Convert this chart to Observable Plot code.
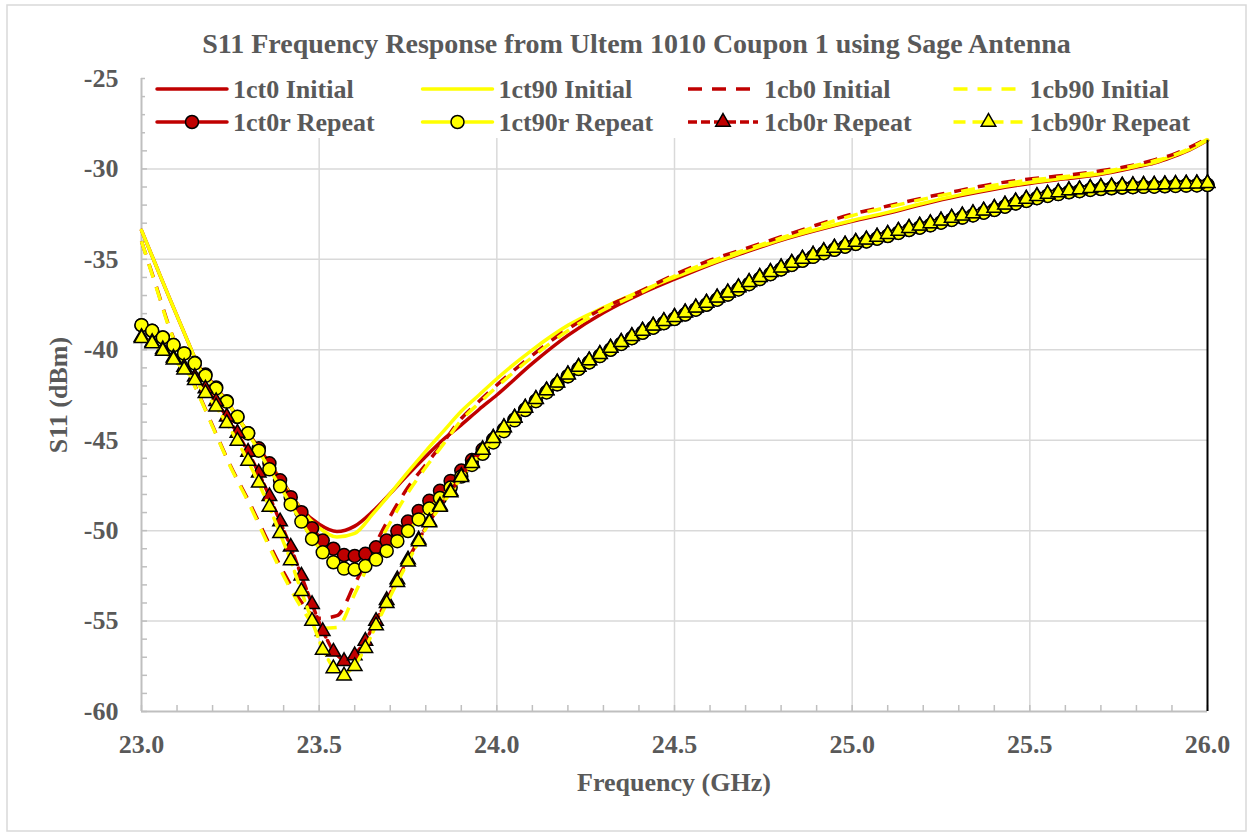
<!DOCTYPE html>
<html>
<head>
<meta charset="utf-8">
<script src="https://cdn.jsdelivr.net/npm/d3@7"></script>
<script src="https://cdn.jsdelivr.net/npm/@observablehq/plot@0.6"></script>
<style>
  body { margin: 0; background: #ffffff; }
  #wrap { position: relative; width: 1253px; height: 837px; overflow: hidden; }
</style>
</head>
<body>
<div id="wrap"></div>
<script>
// ---------- Text ----------
const chartTitle = "S11 Frequency Response from Ultem 1010 Coupon 1 using Sage Antenna";
const xTitle = "Frequency (GHz)";
const yTitle = "S11 (dBm)";
const seriesNames = ["1ct0 Initial", "1ct90 Initial", "1cb0 Initial", "1cb90 Initial",
                     "1ct0r Repeat", "1ct90r Repeat", "1cb0r Repeat", "1cb90r Repeat"];

// ---------- Axis ticks ----------
const xTicks = [23.0, 23.5, 24.0, 24.5, 25.0, 25.5, 26.0];
const yTicks = [-60, -55, -50, -45, -40, -35, -30, -25];
const xGridTicks = [23.5, 24.0, 24.5, 25.0, 25.5];
const yGridTicks = [-55, -50, -45, -40, -35, -30];

// ---------- Initial sweeps (GHz) ----------
const freqInitial = [23.00,23.04,23.08,23.12,23.16,23.20,23.25,23.30,23.35,23.40,
  23.45,23.50,23.55,23.60,23.65,23.70,23.75,23.80,23.85,23.90,23.95,24.00,
  24.10,24.20,24.30,24.40,24.50,24.60,24.70,24.80,24.90,25.00,25.10,25.20,
  25.30,25.40,25.50,25.60,25.70,25.80,25.85,25.90,25.95,26.00];

const ct0Initial = [-33.40,-35.30,-37.20,-39.05,-40.85,-41.90,-43.15,-44.60,-46.00,-47.40,
  -48.80,-49.65,-50.05,-49.75,-48.95,-47.95,-46.90,-45.90,-44.95,-44.15,-43.30,-42.50,
  -40.75,-39.20,-37.95,-36.95,-36.10,-35.30,-34.60,-33.95,-33.40,-32.90,-32.45,-31.95,
  -31.50,-31.12,-30.80,-30.55,-30.30,-29.90,-29.68,-29.35,-28.95,-28.42];

const ct90Initial = [-33.40,-35.30,-37.20,-39.05,-40.85,-41.90,-43.15,-44.60,-46.00,-47.45,
  -48.85,-49.85,-50.35,-50.15,-49.10,-47.95,-46.75,-45.60,-44.50,-43.40,-42.50,-41.60,
  -40.00,-38.65,-37.67,-36.80,-36.00,-35.25,-34.55,-33.90,-33.35,-32.85,-32.40,-31.90,
  -31.45,-31.07,-30.75,-30.50,-30.25,-29.85,-29.65,-29.30,-28.92,-28.40];

const cb0Initial = [-34.00,-36.40,-38.85,-40.70,-42.40,-44.20,-46.40,-48.30,-50.35,-52.30,
  -53.95,-54.85,-54.70,-52.95,-51.05,-49.20,-47.60,-46.35,-45.10,-43.80,-42.85,-41.95,
  -40.30,-38.85,-37.70,-36.80,-35.85,-35.05,-34.40,-33.75,-33.10,-32.50,-32.05,-31.60,
  -31.20,-30.82,-30.55,-30.35,-30.10,-29.75,-29.50,-29.22,-28.80,-28.30];

const cb90Initial = [-34.00,-36.45,-38.90,-40.75,-42.45,-44.25,-46.45,-48.40,-50.50,-52.50,
  -54.25,-55.40,-55.35,-53.50,-51.40,-49.55,-47.90,-46.50,-45.20,-43.90,-42.95,-42.05,
  -40.40,-38.95,-37.80,-36.88,-35.93,-35.12,-34.47,-33.82,-33.18,-32.58,-32.12,-31.67,
  -31.27,-30.90,-30.62,-30.42,-30.17,-29.80,-29.56,-29.28,-28.86,-28.36];

// ---------- Repeat sweeps (GHz) ----------
const freqRepeat = [
  23.00,23.03,23.06,23.09,23.12,23.15,23.18,23.21,23.24,23.27,
  23.30,23.33,23.36,23.39,23.42,23.45,23.48,23.51,23.54,23.57,
  23.60,23.63,23.66,23.69,23.72,23.75,23.78,23.81,23.84,23.87,
  23.90,23.93,23.96,23.99,24.02,24.05,24.08,24.11,24.14,24.17,
  24.20,24.23,24.26,24.29,24.32,24.35,24.38,24.41,24.44,24.47,
  24.50,24.53,24.56,24.59,24.62,24.65,24.68,24.71,24.74,24.77,
  24.80,24.83,24.86,24.89,24.92,24.95,24.98,25.01,25.04,25.07,
  25.10,25.13,25.16,25.19,25.22,25.25,25.28,25.31,25.34,25.37,
  25.40,25.43,25.46,25.49,25.52,25.55,25.58,25.61,25.64,25.67,
  25.70,25.73,25.76,25.79,25.82,25.85,25.88,25.91,25.94,25.97,
  26.00];

const ct0Repeat = [
  -38.64,-38.95,-39.32,-39.74,-40.20,-40.72,-41.37,-42.08,-42.84,-43.72,
  -44.61,-45.45,-46.28,-47.22,-48.15,-48.98,-49.87,-50.55,-51.00,-51.35,
  -51.40,-51.28,-50.92,-50.55,-50.02,-49.50,-48.92,-48.35,-47.80,-47.25,
  -46.68,-46.10,-45.52,-44.95,-44.40,-43.85,-43.30,-42.82,-42.34,-41.90,
  -41.46,-41.05,-40.69,-40.34,-39.99,-39.67,-39.35,-39.05,-38.77,-38.52,
  -38.29,-38.04,-37.77,-37.50,-37.22,-36.94,-36.65,-36.36,-36.08,-35.81,
  -35.55,-35.30,-35.07,-34.85,-34.65,-34.46,-34.29,-34.14,-34.00,-33.85,
  -33.70,-33.53,-33.37,-33.24,-33.11,-32.96,-32.81,-32.68,-32.56,-32.41,
  -32.26,-32.08,-31.90,-31.76,-31.61,-31.48,-31.38,-31.28,-31.22,-31.15,
  -31.10,-31.06,-31.02,-31.00,-30.98,-30.97,-30.95,-30.93,-30.91,-30.90,
  -30.88];

const ct90Repeat = [
  -38.64,-38.95,-39.32,-39.74,-40.20,-40.75,-41.44,-42.14,-42.87,-43.70,
  -44.62,-45.58,-46.61,-47.55,-48.55,-49.50,-50.46,-51.20,-51.75,-52.10,
  -52.15,-51.96,-51.60,-51.12,-50.58,-50.02,-49.38,-48.78,-48.20,-47.62,
  -47.01,-46.37,-45.75,-45.12,-44.50,-43.90,-43.33,-42.84,-42.36,-41.91,
  -41.47,-41.06,-40.70,-40.35,-40.00,-39.68,-39.36,-39.06,-38.78,-38.53,
  -38.30,-38.05,-37.78,-37.51,-37.23,-36.95,-36.66,-36.37,-36.09,-35.82,
  -35.56,-35.31,-35.08,-34.86,-34.66,-34.47,-34.30,-34.15,-34.01,-33.86,
  -33.71,-33.54,-33.38,-33.25,-33.12,-32.97,-32.82,-32.69,-32.57,-32.42,
  -32.27,-32.09,-31.91,-31.77,-31.62,-31.49,-31.39,-31.29,-31.23,-31.16,
  -31.11,-31.07,-31.03,-31.01,-30.99,-30.98,-30.96,-30.94,-30.92,-30.91,
  -30.89];

const cb0Repeat = [
  -39.30,-39.58,-39.98,-40.45,-40.95,-41.50,-42.15,-42.85,-43.70,-44.60,
  -45.65,-46.80,-48.10,-49.50,-50.90,-52.50,-54.07,-55.56,-56.70,-57.22,
  -56.90,-56.10,-55.00,-53.85,-52.70,-51.60,-50.50,-49.50,-48.62,-47.82,
  -46.98,-46.22,-45.50,-44.86,-44.28,-43.75,-43.20,-42.72,-42.24,-41.81,
  -41.36,-40.94,-40.58,-40.23,-39.88,-39.56,-39.24,-38.94,-38.66,-38.41,
  -38.18,-37.93,-37.66,-37.39,-37.11,-36.83,-36.54,-36.25,-35.97,-35.70,
  -35.44,-35.19,-34.96,-34.74,-34.54,-34.35,-34.18,-34.03,-33.90,-33.74,
  -33.59,-33.42,-33.26,-33.13,-33.00,-32.85,-32.70,-32.57,-32.45,-32.30,
  -32.15,-31.97,-31.79,-31.65,-31.50,-31.37,-31.28,-31.18,-31.12,-31.05,
  -31.00,-30.96,-30.92,-30.90,-30.88,-30.87,-30.85,-30.83,-30.81,-30.80,
  -30.78];

const cb90Repeat = [
  -39.37,-39.65,-40.07,-40.55,-41.10,-41.69,-42.41,-43.15,-44.07,-45.04,
  -46.15,-47.36,-48.70,-50.15,-51.65,-53.35,-55.00,-56.60,-57.62,-58.02,
  -57.50,-56.50,-55.25,-54.02,-52.85,-51.72,-50.60,-49.55,-48.70,-47.90,
  -47.05,-46.28,-45.55,-44.90,-44.30,-43.77,-43.22,-42.74,-42.26,-41.83,
  -41.38,-40.96,-40.60,-40.25,-39.90,-39.58,-39.26,-38.96,-38.68,-38.43,
  -38.20,-37.95,-37.68,-37.41,-37.13,-36.85,-36.56,-36.27,-35.99,-35.72,
  -35.46,-35.21,-34.98,-34.76,-34.56,-34.37,-34.20,-34.05,-33.92,-33.76,
  -33.61,-33.44,-33.28,-33.15,-33.02,-32.87,-32.72,-32.59,-32.47,-32.32,
  -32.17,-31.99,-31.81,-31.67,-31.52,-31.39,-31.30,-31.20,-31.14,-31.07,
  -31.02,-30.98,-30.94,-30.92,-30.90,-30.89,-30.87,-30.85,-30.83,-30.82,
  -30.80];

// ---------- Styling ----------
const RED = "#C00000", YEL = "#FFFF00", TXT = "#595959";
const seriesStyle = [
  {color: RED, dash: null, marker: null},
  {color: YEL, dash: null, marker: null},
  {color: RED, dash: "14,10", marker: null},
  {color: YEL, dash: "14,10", marker: null},
  {color: RED, dash: null, marker: "circle"},
  {color: YEL, dash: null, marker: "circle"},
  {color: RED, dash: "9,4", marker: "triangle"},
  {color: YEL, dash: "12,7", marker: "triangle"}
];
const LW = 3.5, CIRCLE_R = 6.5, TRI_R = 5.4;

const toRows = (fs, vs) => fs.map((f, i) => ({f, v: vs[i]}));
const initialSets = [ct0Initial, ct90Initial, cb0Initial, cb90Initial].map(v => toRows(freqInitial, v));
const repeatSets = [ct0Repeat, ct90Repeat, cb0Repeat, cb90Repeat].map(v => toRows(freqRepeat, v));

const marks = [
  Plot.ruleY(yGridTicks, {stroke: "#d9d9d9", strokeWidth: 1.5}),
  Plot.ruleX(xGridTicks, {stroke: "#d9d9d9", strokeWidth: 1.5}),
  Plot.ruleX([xTicks[0]], {stroke: "#bfbfbf", strokeWidth: 2}),
  Plot.ruleY([yTicks[0]], {stroke: "#bfbfbf", strokeWidth: 2}),
  Plot.axisY({ticks: yTicks, tickFormat: d => String(d), tickSize: 0, tickPadding: 23, label: null, fill: TXT}),
  Plot.axisY({ticks: d3.range(-60, -24, 1), tickSize: -6, text: null, label: null, stroke: "#bfbfbf", strokeWidth: 1.5}),
  Plot.axisX({ticks: xTicks, tickFormat: d3.format(".1f"), tickSize: 0, tickPadding: 23, label: null, fill: TXT}),
  Plot.axisX({ticks: d3.range(230, 261, 1).map(d => d / 10), tickSize: -6, text: null, label: null, stroke: "#bfbfbf", strokeWidth: 1.5})
];

initialSets.forEach((rows, i) => {
  const s = seriesStyle[i];
  marks.push(Plot.line(rows, {x: "f", y: "v", stroke: s.color, strokeWidth: LW, curve: "monotone-x",
    strokeDasharray: s.dash ?? undefined, strokeLinecap: s.dash ? "butt" : "round"}));
});

// right-edge drop line at the end of the sweep
const lastF = freqInitial[freqInitial.length - 1];
marks.push(Plot.ruleX([lastF], {y1: ct0Initial[ct0Initial.length - 1], y2: yTicks[0], stroke: "black", strokeWidth: 2}));

repeatSets.forEach((rows, j) => {
  const s = seriesStyle[4 + j];
  marks.push(Plot.line(rows, {x: "f", y: "v", stroke: s.color, strokeWidth: LW,
    strokeDasharray: s.dash ?? undefined}));
  marks.push(Plot.dot(rows, {x: "f", y: "v", symbol: s.marker, r: s.marker === "circle" ? CIRCLE_R : TRI_R,
    fill: s.color, stroke: "black", strokeWidth: 1.5}));
});

const chart = Plot.plot({
  width: 1253,
  height: 837,
  marginLeft: 141,
  marginRight: 46,
  marginTop: 78,
  marginBottom: 126,
  x: {domain: [23, 26]},
  y: {domain: [-60, -25]},
  style: {fontFamily: "'Liberation Serif', 'Times New Roman', serif", fontSize: "26px", fontWeight: "bold",
          color: TXT, background: "transparent", overflow: "visible"},
  marks
});
document.getElementById("wrap").appendChild(chart);

// ---------- Titles, legend, chart border ----------
const svg = d3.select(chart);
svg.insert("rect", ":first-child").attr("x", 7).attr("y", 5).attr("width", 1239).attr("height", 826)
  .attr("fill", "white").attr("stroke", "#d9d9d9").attr("stroke-width", 1.5);

svg.append("text").attr("x", 636.5).attr("y", 53).attr("text-anchor", "middle")
  .attr("font-size", 28).attr("fill", TXT).text(chartTitle);
svg.append("text").attr("x", 674).attr("y", 791).attr("text-anchor", "middle")
  .attr("font-size", 26).attr("fill", TXT).text(xTitle);
svg.append("text").attr("transform", "translate(67,395) rotate(-90)").attr("text-anchor", "middle")
  .attr("font-size", 26).attr("fill", TXT).text(yTitle);

const lg = svg.append("g");
lg.append("rect").attr("x", 145).attr("y", 66).attr("width", 1059).attr("height", 72).attr("fill", "white");
seriesNames.forEach((name, i) => {
  const s = seriesStyle[i];
  const row = Math.floor(i / 4), col = i % 4;
  const x0 = 157 + col * 265.5, yc = 89 + row * 33;
  lg.append("line").attr("x1", x0).attr("x2", x0 + 70).attr("y1", yc).attr("y2", yc)
    .attr("stroke", s.color).attr("stroke-width", LW)
    .attr("stroke-dasharray", s.dash || null).attr("stroke-linecap", s.dash ? "butt" : "round");
  if (s.marker === "circle") {
    lg.append("circle").attr("cx", x0 + 35).attr("cy", yc).attr("r", CIRCLE_R)
      .attr("fill", s.color).attr("stroke", "black").attr("stroke-width", 1.5);
  } else if (s.marker === "triangle") {
    lg.append("path").attr("transform", `translate(${x0 + 35},${yc})`)
      .attr("d", d3.symbol(d3.symbolTriangle, Math.PI * TRI_R * TRI_R)())
      .attr("fill", s.color).attr("stroke", "black").attr("stroke-width", 1.5);
  }
  lg.append("text").attr("x", x0 + 76).attr("y", yc + 8.5).attr("text-anchor", "start")
    .attr("font-size", 26).attr("fill", TXT).text(name);
});
</script>
</body>
</html>
